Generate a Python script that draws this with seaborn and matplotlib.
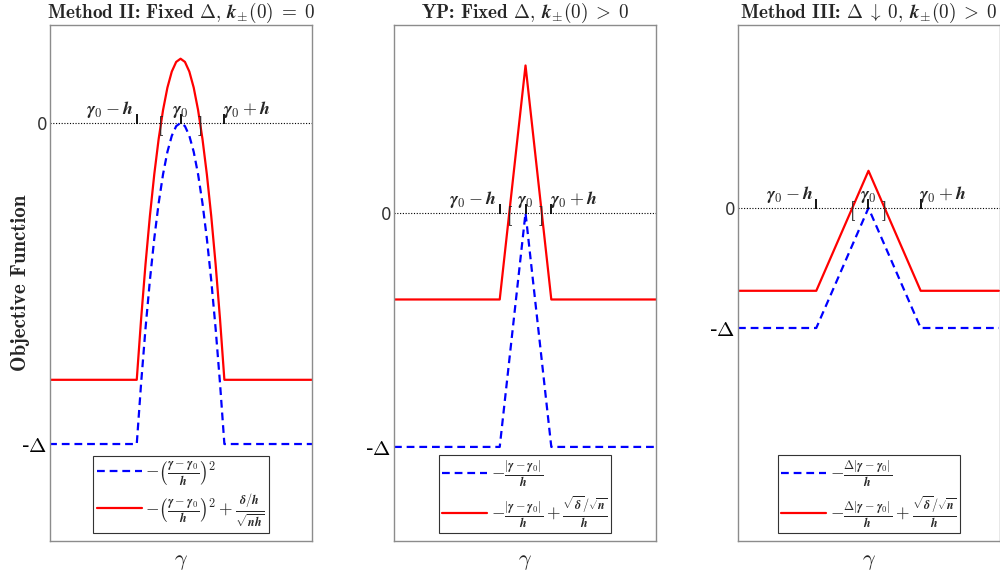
import matplotlib
matplotlib.use('Agg')
import numpy as np
import pandas as pd
import seaborn as sns
from matplotlib import pyplot as plt
from matplotlib.transforms import offset_copy

# gamma in units of h (gamma0 = 0), objective in units of Delta
g1 = [-3.0, -1.0, -0.9, -0.8, -0.7, -0.6, -0.5, -0.4, -0.3, -0.2, -0.1, 0.0,
      0.1, 0.2, 0.3, 0.4, 0.5, 0.6, 0.7, 0.8, 0.9, 1.0, 3.0]
blue1 = [-1.0, -1.0, -0.81, -0.64, -0.49, -0.36, -0.25, -0.16, -0.09, -0.04, -0.01, 0.0,
         -0.01, -0.04, -0.09, -0.16, -0.25, -0.36, -0.49, -0.64, -0.81, -1.0, -1.0]
red1 = [-0.8, -0.8, -0.61, -0.44, -0.29, -0.16, -0.05, 0.04, 0.11, 0.16, 0.19, 0.2,
        0.19, 0.16, 0.11, 0.04, -0.05, -0.16, -0.29, -0.44, -0.61, -0.8, -0.8]

g2 = [-5.1, -1.0, 0.0, 1.0, 5.1]
blue2 = [-1.0, -1.0, 0.0, -1.0, -1.0]
red2 = [-0.37, -0.37, 0.63, -0.37, -0.37]

g3 = [-2.5, -1.0, 0.0, 1.0, 2.5]
blue3 = [-1.0, -1.0, 0.0, -1.0, -1.0]
red3 = [-0.69, -0.69, 0.31, -0.69, -0.69]

marks = [-1.0, 0.0, 1.0]          # gamma0 - h, gamma0, gamma0 + h
brackets = [[-0.45, 0.45], [-0.63, 0.63], [-0.31, 0.31]]

# bold math pieces
G = r'\boldsymbol{\gamma}'
G0 = r'\boldsymbol{\gamma}_{\mathbf{0}}'
H = r'\boldsymbol{h}'
D = r'\boldsymbol{\Delta}'
KPM = r'\boldsymbol{k}_{\boldsymbol{\pm}}\mathbf{(0)}'
FRAC_Q = r'-\left(\frac{%s-%s}{%s}\right)^{\mathbf{2}}' % (G, G0, H)
FRAC_A = r'-\frac{|%s-%s|}{%s}' % (G, G0, H)
FRAC_DA = r'-\frac{%s|%s-%s|}{%s}' % (D, G, G0, H)
ADD1 = r'+\frac{\boldsymbol{\delta}/%s}{\sqrt{\boldsymbol{n}%s}}' % (H, H)
ADD2 = r'+\frac{\sqrt{\boldsymbol{\delta}}/\sqrt{\boldsymbol{n}}}{%s}' % H

titles = ["Method II: Fixed $%s,\\,%s\\;=\\;\\mathbf{0}$" % (D, KPM),
          "YP: Fixed $%s,\\,%s\\;>\\;\\mathbf{0}$" % (D, KPM),
          "Method III: $%s\\;\\downarrow\\;\\mathbf{0},\\,%s\\;>\\;\\mathbf{0}$" % (D, KPM)]
legends = [['$' + FRAC_Q + '$', '$' + FRAC_Q + ADD1 + '$'],
           ['$' + FRAC_A + '$', '$' + FRAC_A + ADD2 + '$'],
           ['$' + FRAC_DA + '$', '$' + FRAC_DA + ADD2 + '$']]
xlims = [(-2.98, 3.0), (-5.1, 5.06), (-2.5, 2.52)]
ylims = [(-1.302, 0.305), (-1.402, 0.803), (-2.775, 1.525)]

sns.set_style('white')
plt.rcParams['mathtext.fontset'] = 'cm'
plt.rcParams['axes.unicode_minus'] = False

fig = plt.figure(figsize=(10, 5.77), dpi=100)
lefts = [0.050, 0.394, 0.738]
data = [(g1, blue1, red1), (g2, blue2, red2), (g3, blue3, red3)]

for i in range(3):
    ax = fig.add_axes([lefts[i], 0.0624, 0.262, 0.8943])
    g, b, r = data[i]
    df = pd.DataFrame({'g': g, 'blue': b, 'red': r})
    ax.axhline(0, color='black', lw=0.8, ls=(0, (1, 1.5)), zorder=1)
    sns.lineplot(data=df, x='g', y='blue', ax=ax, color='blue', lw=1.6,
                 linestyle=(0, (3.5, 2.2)), sort=False, label=legends[i][0])
    sns.lineplot(data=df, x='g', y='red', ax=ax, color='red', lw=1.6,
                 sort=False, label=legends[i][1])
    ax.set_xlim(*xlims[i])
    ax.set_ylim(*ylims[i])
    ax.set_xticks([])
    ax.set_yticks([-1, 0])
    ax.set_yticklabels([r'-$\mathbf{\Delta}$', '0'])
    lbls = ax.get_yticklabels()
    lbls[0].set_fontsize(15)
    lbls[0].set_color('black')
    lbls[1].set_fontsize(12)
    lbls[1].set_color('#333333')
    ax.tick_params(axis='y', length=0, pad=2)
    for s in ax.spines.values():
        s.set_color('#8c8c8c')
        s.set_linewidth(1)

    # small tick marks above the zero line
    tr = offset_copy(ax.transData, fig=fig, x=0, y=3.5, units='dots')
    ax.plot(marks, [0, 0, 0], ls='none', marker='|', ms=7, mew=1.3, color='black', transform=tr)
    ax.annotate('$%s-%s$' % (G0, H), (marks[0], 0), xytext=(-2, 6.5), textcoords='offset points',
                ha='right', va='baseline', fontsize=13)
    ax.annotate('$%s$' % G0, (marks[1], 0), xytext=(0, 6.5), textcoords='offset points',
                ha='center', va='baseline', fontsize=13)
    ax.annotate('$%s+%s$' % (G0, H), (marks[2], 0), xytext=(-1, 6.5), textcoords='offset points',
                ha='left', va='baseline', fontsize=13)
    ax.annotate('[', (brackets[i][0], 0), xytext=(0, -2.5), textcoords='offset points',
                ha='center', va='center', fontsize=14, family='cmb10')
    ax.annotate(']', (brackets[i][1], 0), xytext=(0, -2.5), textcoords='offset points',
                ha='center', va='center', fontsize=14, family='cmb10')

    ax.set_title(titles[i], fontsize=13.8, family='cmb10', pad=5)
    ax.set_xlabel(r'$\gamma$', fontsize=16, labelpad=8)
    if i == 0:
        ax.set_ylabel('Objective Function', fontsize=15, family='cmb10')
        ax.yaxis.set_label_coords(-0.075, 0.5)
    else:
        ax.set_ylabel('')
    leg = ax.legend(loc='lower center', bbox_to_anchor=(0.5, 0.015), fontsize=12.5, frameon=True,
                    fancybox=False, framealpha=1, edgecolor='#333333', handlelength=2.6,
                    handletextpad=0.2, borderpad=0.2, labelspacing=0.3, borderaxespad=0)
    leg.get_frame().set_linewidth(0.8)

fig.savefig('out.png', dpi=100)
